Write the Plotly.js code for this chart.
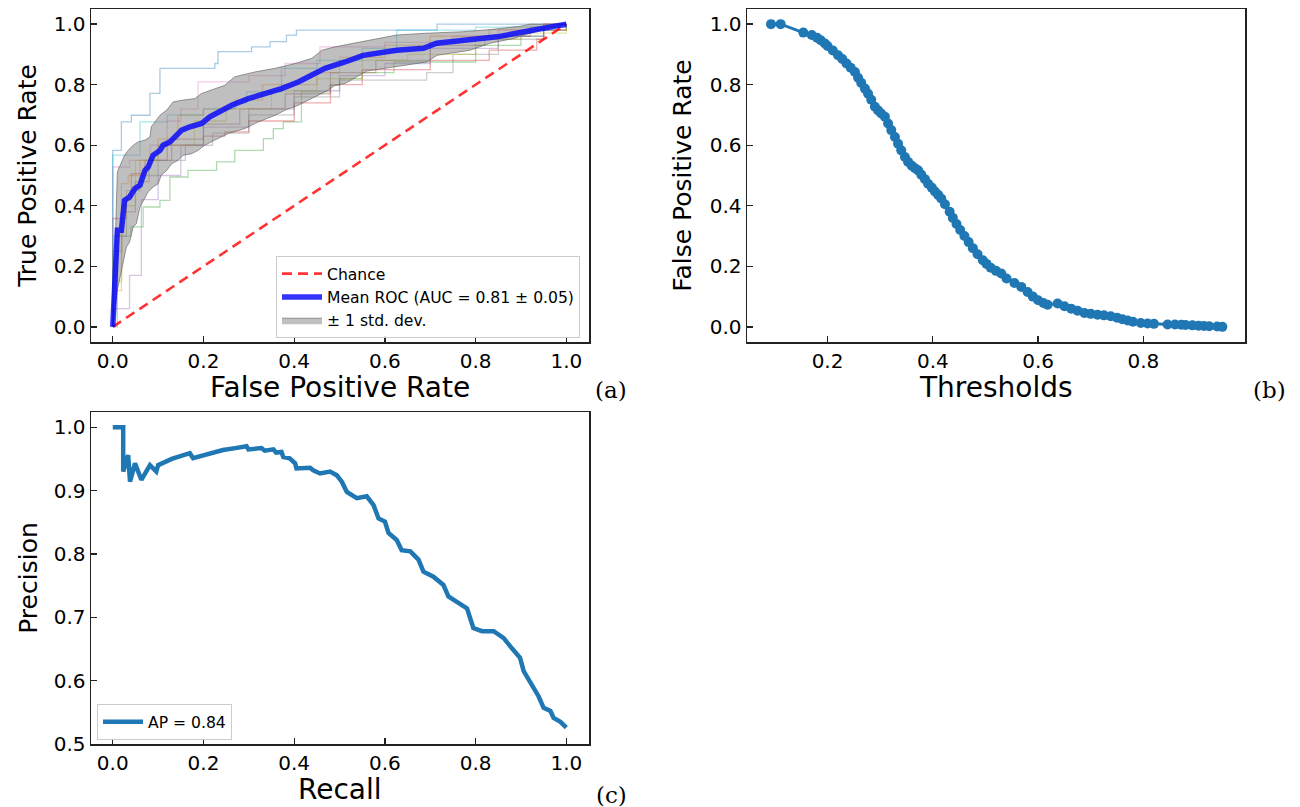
<!DOCTYPE html>
<html>
<head>
<meta charset="utf-8">
<script src="https://cdn.plot.ly/plotly-3.0.1.min.js"></script>
<style>html,body{margin:0;padding:0;background:#fff;}#chart{width:1300px;height:807px;}</style>
</head>
<body>
<div id="chart"></div>
<script>
// ---------- Panel (a): ROC ----------
const foldNames = ["fold0","fold1","fold2","fold3","fold4","fold5","fold6","fold7","fold8","fold9"];
const foldColors = ["rgba(31,119,180,0.38)","rgba(255,127,14,0.38)","rgba(44,160,44,0.38)","rgba(214,39,40,0.38)","rgba(148,103,189,0.38)","rgba(140,86,75,0.38)","rgba(227,119,194,0.38)","rgba(127,127,127,0.38)","rgba(188,189,34,0.38)","rgba(23,190,207,0.38)"];
const foldFpr = [
  [0,0,0.019,0.041,0.082,0.104,0.225,0.232,0.306,0.347,0.383,0.405,0.715,1.0],
  [0,0,0.019,0.034,0.06,0.1,0.144,0.2,0.27,0.33,0.45,0.5,0.6,0.7,0.83,0.95,1.0],
  [0,0.01,0.04,0.067,0.104,0.126,0.166,0.229,0.269,0.332,0.354,0.376,0.416,0.479,0.5,0.55,0.62,0.8,0.9,0.95,1.0],
  [0,0,0.03,0.041,0.071,0.12,0.2,0.247,0.3,0.4,0.48,0.55,0.7,0.83,0.935,0.95,1.0],
  [0,0,0.037,0.063,0.1,0.15,0.2,0.3,0.4,0.5,0.6,0.7,0.85,0.95,1.0],
  [0,0,0.02,0.05,0.08,0.13,0.2,0.28,0.38,0.48,0.58,0.7,0.82,0.92,1.0],
  [0,0,0.037,0.082,0.12,0.15,0.188,0.3,0.38,0.457,0.6,0.75,0.85,0.95,1.0],
  [0,0,0.03,0.06,0.1,0.16,0.22,0.3,0.4,0.5,0.692,0.75,0.85,0.95,1.0],
  [0,0,0.02,0.05,0.1,0.18,0.25,0.35,0.45,0.55,0.65,0.8,0.9,1.0],
  [0,0,0.06,0.12,0.2,0.269,0.295,0.372,0.45,0.55,0.626,0.8,1.0]
];
const foldTpr = [
  [0,0.583,0.677,0.699,0.771,0.854,0.87,0.909,0.925,0.942,0.964,0.98,1.0,1.0],
  [0,0.12,0.473,0.5,0.55,0.62,0.699,0.72,0.75,0.8,0.84,0.89,0.93,0.96,0.982,1.0,1.0],
  [0,0.3,0.33,0.396,0.418,0.495,0.517,0.545,0.583,0.622,0.655,0.677,0.776,0.798,0.82,0.84,0.875,0.93,0.96,0.98,1.0],
  [0,0.358,0.42,0.506,0.55,0.6,0.63,0.644,0.68,0.74,0.8,0.85,0.88,0.914,0.95,0.98,1.0],
  [0,0.06,0.17,0.42,0.5,0.6,0.66,0.72,0.78,0.83,0.87,0.92,0.96,1.0,1.0],
  [0,0.25,0.38,0.48,0.55,0.62,0.67,0.72,0.77,0.84,0.88,0.93,0.96,0.99,1.0],
  [0,0.528,0.55,0.6,0.68,0.72,0.809,0.83,0.87,0.925,0.94,0.96,0.98,1.0,1.0],
  [0,0.3,0.45,0.5,0.55,0.6,0.64,0.7,0.76,0.815,0.84,0.9,0.95,0.98,1.0],
  [0,0.15,0.4,0.55,0.6,0.68,0.72,0.78,0.82,0.88,0.9,0.95,0.97,1.0],
  [0,0.567,0.677,0.70,0.72,0.74,0.776,0.854,0.88,0.92,0.98,0.99,1.0]
];

const meanFpr = [0,0.0101,0.019,0.026,0.037,0.049,0.06,0.071,0.078,0.089,0.104,0.111,0.126,0.137,0.152,0.17,0.196,0.214,0.247,0.262,0.299,0.336,0.372,0.409,0.446,0.468,0.512,0.552,0.626,0.685,0.714,0.773,0.847,0.92,1.0];
const meanTpr = [0,0.319,0.319,0.418,0.429,0.457,0.468,0.517,0.528,0.567,0.583,0.6,0.611,0.627,0.65,0.661,0.672,0.694,0.721,0.732,0.754,0.771,0.787,0.809,0.837,0.854,0.875,0.897,0.914,0.92,0.937,0.947,0.958,0.978,1.0];

const upperFpr = [0,0.0101,0.026,0.034,0.045,0.056,0.071,0.082,0.085,0.093,0.104,0.119,0.133,0.155,0.181,0.196,0.218,0.247,0.269,0.313,0.358,0.402,0.439,0.461,0.49,0.512,0.552,0.626,0.692,0.773,0.832,0.898,0.92,1.0];
const upperTpr = [0,0.512,0.567,0.583,0.6,0.611,0.617,0.627,0.661,0.677,0.699,0.716,0.743,0.749,0.754,0.771,0.782,0.798,0.826,0.842,0.854,0.87,0.887,0.914,0.925,0.931,0.942,0.964,0.97,0.975,0.982,0.993,1.0,1.0];
const lowerFpr = [0,0.0101,0.03,0.037,0.045,0.052,0.06,0.071,0.078,0.089,0.1,0.107,0.119,0.13,0.144,0.155,0.174,0.188,0.203,0.225,0.255,0.291,0.321,0.358,0.38,0.409,0.431,0.453,0.475,0.49,0.512,0.56,0.692,0.715,0.788,0.832,0.885,0.94,1.0];
const lowerTpr = [0,0.121,0.264,0.28,0.33,0.341,0.396,0.429,0.446,0.462,0.473,0.501,0.517,0.539,0.55,0.567,0.572,0.583,0.6,0.617,0.639,0.655,0.677,0.699,0.716,0.732,0.749,0.765,0.782,0.798,0.804,0.845,0.875,0.897,0.914,0.937,0.953,0.98,1.0];

const chanceX = [0,1];
const chanceY = [0,1];

// ---------- Panel (b): FPR vs thresholds ----------
const thresholds = [0.0926,0.111,0.154,0.17,0.18,0.187,0.195,0.2,0.21,0.22,0.228,0.236,0.244,0.252,0.258,0.264,0.271,0.277,0.283,0.29,0.296,0.302,0.309,0.315,0.321,0.328,0.334,0.34,0.347,0.353,0.36,0.366,0.372,0.378,0.385,0.391,0.398,0.404,0.41,0.416,0.423,0.432,0.438,0.445,0.452,0.46,0.468,0.476,0.485,0.495,0.502,0.51,0.52,0.53,0.54,0.555,0.568,0.58,0.59,0.6,0.61,0.618,0.637,0.65,0.663,0.675,0.688,0.7,0.713,0.725,0.738,0.75,0.76,0.77,0.78,0.795,0.808,0.82,0.846,0.86,0.872,0.88,0.893,0.905,0.915,0.925,0.94,0.95];
const fprThr = [1.0,1.0,0.972,0.964,0.955,0.947,0.936,0.928,0.913,0.897,0.885,0.87,0.856,0.842,0.823,0.806,0.787,0.77,0.75,0.727,0.715,0.705,0.694,0.672,0.65,0.627,0.605,0.583,0.561,0.545,0.532,0.524,0.517,0.503,0.488,0.473,0.46,0.447,0.436,0.424,0.405,0.38,0.36,0.34,0.32,0.30,0.28,0.26,0.24,0.22,0.208,0.195,0.185,0.176,0.16,0.145,0.132,0.115,0.1,0.088,0.079,0.073,0.077,0.068,0.06,0.053,0.046,0.043,0.04,0.038,0.035,0.03,0.025,0.021,0.017,0.013,0.011,0.01,0.008,0.008,0.007,0.006,0.005,0.004,0.003,0.002,0.001,0.0];

// ---------- Panel (c): Precision-Recall ----------
const recall = [0,0.023,0.023,0.034,0.038,0.049,0.063,0.082,0.096,0.1,0.13,0.17,0.177,0.21,0.243,0.27,0.295,0.299,0.328,0.335,0.354,0.36,0.372,0.376,0.39,0.402,0.405,0.435,0.442,0.457,0.479,0.494,0.505,0.516,0.538,0.56,0.575,0.586,0.6,0.608,0.626,0.637,0.656,0.674,0.685,0.707,0.729,0.74,0.762,0.781,0.795,0.814,0.84,0.862,0.88,0.898,0.906,0.921,0.939,0.95,0.965,0.972,0.987,1.0];
const precision = [1.0,1.0,0.93,0.956,0.914,0.943,0.917,0.94,0.93,0.94,0.95,0.959,0.951,0.958,0.964,0.967,0.97,0.965,0.967,0.963,0.965,0.96,0.961,0.953,0.951,0.943,0.935,0.936,0.932,0.927,0.93,0.924,0.914,0.898,0.888,0.891,0.877,0.856,0.851,0.833,0.822,0.806,0.804,0.791,0.772,0.764,0.751,0.733,0.722,0.714,0.683,0.678,0.678,0.667,0.651,0.636,0.615,0.596,0.575,0.557,0.552,0.541,0.535,0.526];

const ticksA = [0,0.2,0.4,0.6,0.8,1.0];
const ticksB = [0.2,0.4,0.6,0.8];
const ticksPrec = [0.5,0.6,0.7,0.8,0.9,1.0];

const legendA = {chance:"Chance", mean:"Mean ROC (AUC = 0.81 ± 0.05)", std:"± 1 std. dev."};
const legendC = "AP = 0.84";
const xTitles = ["False Positive Rate", "Thresholds", "Recall"];
const yTitles = ["True Positive Rate", "False Positive Rate", "Precision"];
const panelLabels = ["(a)", "(b)", "(c)"];

// ---------- traces ----------
const traces = [];
foldNames.forEach((n,i)=>{
  traces.push({x:foldFpr[i], y:foldTpr[i], type:'scatter', mode:'lines', line:{color:foldColors[i], width:1.3, shape:'hv'}, showlegend:false, hoverinfo:'skip', xaxis:'x', yaxis:'y', name:n});
});
traces.push({x:lowerFpr, y:lowerTpr, type:'scatter', mode:'lines', line:{color:'rgba(90,90,90,0.6)', width:1}, showlegend:false, xaxis:'x', yaxis:'y'});
traces.push({x:upperFpr, y:upperTpr, type:'scatter', mode:'lines', fill:'tonexty', fillcolor:'rgba(128,128,128,0.5)', line:{color:'rgba(90,90,90,0.6)', width:1}, name:legendA.std, legendrank:3, xaxis:'x', yaxis:'y'});
traces.push({x:chanceX, y:chanceY, type:'scatter', mode:'lines', line:{color:'rgba(255,0,0,0.8)', width:2.6, dash:'10px,6px'}, name:legendA.chance, legendrank:1, xaxis:'x', yaxis:'y'});
traces.push({x:meanFpr, y:meanTpr, type:'scatter', mode:'lines', line:{color:'rgba(0,0,255,0.8)', width:5.5}, name:legendA.mean, legendrank:2, xaxis:'x', yaxis:'y'});

traces.push({x:thresholds, y:fprThr, type:'scatter', mode:'lines+markers', line:{color:'#1f77b4', width:3}, marker:{color:'#1f77b4', size:10}, showlegend:false, xaxis:'x2', yaxis:'y2'});

traces.push({x:recall, y:precision, type:'scatter', mode:'lines', line:{color:'#1f77b4', width:4.5}, name:legendC, legend:'legend2', xaxis:'x3', yaxis:'y3'});

const tickFont = {family:'DejaVu Sans', size:20, color:'#000'};
function ax(extra){
  return Object.assign({showline:true, linecolor:'#222', linewidth:1.5, mirror:true, ticks:'inside', ticklen:6, tickwidth:1.3, tickcolor:'#222', showgrid:false, zeroline:false, tickfont:tickFont, automargin:false, fixedrange:true}, extra);
}
const W=1300, H=807;
const yTitleFont = {size:25};
const xTitleFont = {family:'DejaVu Sans', size:28, color:'#000'};
const labelFont = {family:'DejaVu Serif', size:23, color:'#000'};
function xTitleAnn(text, cx, cy){
  return {text:text, x:cx/W, y:1-cy/H, xref:'paper', yref:'paper', xanchor:'center', yanchor:'middle', showarrow:false, font:xTitleFont};
}
function labelAnn(text, cx, cy){
  return {text:text, x:cx/W, y:1-cy/H, xref:'paper', yref:'paper', xanchor:'center', yanchor:'middle', showarrow:false, font:labelFont};
}
const layout = {
  width:W, height:H, margin:{l:0,r:0,t:0,b:0}, paper_bgcolor:'#fff', plot_bgcolor:'#fff',
  font:{family:'DejaVu Sans', color:'#000'},
  xaxis: ax({domain:[91/W,589/W], range:[-0.048,1.05], tickvals:ticksA, ticktext:ticksA.map(v=>v.toFixed(1)), anchor:'y'}),
  yaxis: ax({domain:[1-342/H,1-9/H], range:[-0.05,1.05], tickvals:ticksA, ticktext:ticksA.map(v=>v.toFixed(1)), anchor:'x', title:{text:yTitles[0], font:yTitleFont, standoff:10}}),
  xaxis2: ax({domain:[747/W,1245/W], range:[0.047,0.993], tickvals:ticksB, ticktext:ticksB.map(v=>v.toFixed(1)), anchor:'y2'}),
  yaxis2: ax({domain:[1-342/H,1-9/H], range:[-0.05,1.05], tickvals:ticksA, ticktext:ticksA.map(v=>v.toFixed(1)), anchor:'x2', title:{text:yTitles[1], font:yTitleFont, standoff:11}}),
  xaxis3: ax({domain:[91/W,589/W], range:[-0.048,1.05], tickvals:ticksA, ticktext:ticksA.map(v=>v.toFixed(1)), anchor:'y3'}),
  yaxis3: ax({domain:[1-744/H,1-412/H], range:[0.5,1.024], tickvals:ticksPrec, ticktext:ticksPrec.map(v=>v.toFixed(1)), anchor:'x3', title:{text:yTitles[2], font:yTitleFont, standoff:9}}),
  legend:{x:580/W, xanchor:'right', y:1-338/H, yanchor:'bottom', traceorder:'normal', bgcolor:'rgba(255,255,255,0.85)', bordercolor:'#cccccc', borderwidth:1, font:{family:'DejaVu Sans', size:15.6, color:'#000'}, itemwidth:40, tracegroupgap:0},
  legend2:{x:97/W, xanchor:'left', y:1-740/H, yanchor:'bottom', bgcolor:'rgba(255,255,255,0.85)', bordercolor:'#cccccc', borderwidth:1, font:{family:'DejaVu Sans', size:15.6, color:'#000'}, itemwidth:40},
  annotations:[
    xTitleAnn(xTitles[0], 340, 387),
    xTitleAnn(xTitles[1], 996, 387),
    xTitleAnn(xTitles[2], 340, 789),
    labelAnn(panelLabels[0], 611, 390),
    labelAnn(panelLabels[1], 1269, 390),
    labelAnn(panelLabels[2], 611, 795)
  ]
};
Plotly.newPlot('chart', traces, layout, {displayModeBar:false, staticPlot:true});
</script>
</body>
</html>
